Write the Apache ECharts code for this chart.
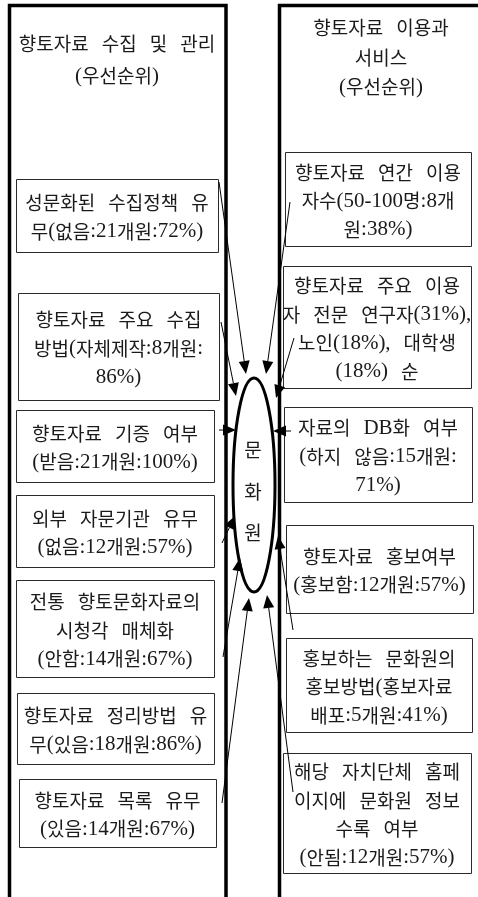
<!DOCTYPE html>
<html><head><meta charset="utf-8">
<script src="https://cdn.jsdelivr.net/npm/echarts@6/dist/echarts.min.js"></script>
<style>html,body{margin:0;padding:0;background:#fff}#c{width:478px;height:897px}</style>
</head><body><div id="c"></div>
<script>
// ---- content ----
const leftTitle = ['향토자료 수집 및 관리', '(우선순위)'];
const rightTitle = ['향토자료 이용과', '서비스', '(우선순위)'];
const centerLabel = ['문', '화', '원'];

const leftItems = [
  '성문화된 수집정책 유\n무(없음:{n}개원:{p}%)',
  '향토자료 주요 수집\n방법(자체제작:{n}개원:\n{p}%)',
  '향토자료 기증 여부\n(받음:{n}개원:{p}%)',
  '외부 자문기관 유무\n(없음:{n}개원:{p}%)',
  '전통 향토문화자료의\n시청각 매체화\n(안함:{n}개원:{p}%)',
  '향토자료 정리방법 유\n무(있음:{n}개원:{p}%)',
  '향토자료 목록 유무\n(있음:{n}개원:{p}%)'
];
const leftCounts = [21, 8, 21, 12, 14, 18, 14];
const leftPercents = [72, 86, 100, 57, 67, 86, 67];

const rightItems = [
  '향토자료 연간 이용\n자수(50-100명:{n}개\n원:{p}%)',
  '향토자료 주요 이용\n자 전문 연구자({a}%),\n노인({b}%), 대학생\n({c}%) 순',
  '자료의 DB화 여부\n(하지 않음:{n}개원:\n{p}%)',
  '향토자료 홍보여부\n(홍보함:{n}개원:{p}%)',
  '홍보하는 문화원의\n홍보방법(홍보자료\n배포:{n}개원:{p}%)',
  '해당 자치단체 홈페\n이지에 문화원 정보\n수록 여부\n(안됨:{n}개원:{p}%)'
];
const rightCounts = [8, null, 15, 12, 5, 12];
const rightPercents = [38, null, 71, 57, 41, 57];
const userShares = [31, 18, 18]; // 전문 연구자, 노인, 대학생

// ---- layout (positions only) ----
const W = 478, H = 897;
const leftBoxes = [[16,179,218,252],[18,293,219,400],[16,410,214,482],[16,495,214,567],[16,580,214,677],[17,693,214,764],[19,779,216,847]];
const rightBoxes = [[285,152,471,246],[283,266,471,388],[284,407,472,502],[286,525,473,613],[286,638,472,732],[283,753,471,873]];
const arrowPaths = [
  [[219,182],[246,374]],
  [[221,322],[236,396]],
  [[219,430],[236,430]],
  [[222,543],[235,516]],
  [[223,657],[240,558]],
  [[222,803],[249,598]],
  [[290,202],[266,374]],
  [[294,338],[276,398]],
  [[291,431],[273,431]],
  [[293,630],[278,536]],
  [[293,792],[267,595]]
];
const ellipseGeo = {cx:254, cy:485, rx:21, ry:107};
const centerLabelY = [450, 492, 533];

const TXT = '#1a1a1a';
const LH = 28.5;
const RICH = {
  h: {fontSize: 19, fontFamily: "'Noto Sans CJK KR', sans-serif", fill: TXT},
  l: {fontSize: 21, fontFamily: "'Liberation Serif', 'Noto Sans CJK KR', serif", fill: TXT},
  s: {fontSize: 26, fontFamily: "'Liberation Serif', serif", fill: TXT}
};

function fill(tpl, vals) { return tpl.replace(/\{(\w+)\}/g, (m, k) => vals[k]); }
const leftTexts = leftItems.map((t, i) => fill(t, {n: leftCounts[i], p: leftPercents[i]}));
const rightTexts = rightItems.map((t, i) => fill(t, {n: rightCounts[i], p: rightPercents[i], a: userShares[0], b: userShares[1], c: userShares[2]}));

function toRich(str) {
  let out = '', cur = null, buf = '';
  const flush = () => { if (buf) out += '{' + cur + '|' + buf + '}'; buf = ''; };
  for (const ch of str) {
    const t = ch === ' ' ? 's' : (/[\u1100-\u11FF\u3130-\u318F\uAC00-\uD7AF]/.test(ch) ? 'h' : 'l');
    if (t !== cur) { flush(); cur = t; }
    buf += ch === ' ' ? '\u2002' : ch;
  }
  flush();
  return out;
}

function textEl(str, x, y) {
  return {type:'text', style:{text: toRich(str), rich: RICH, x:x, y:y, fill: TXT, align:'center', verticalAlign:'middle'}};
}

function boxRender(texts, boxes) {
  return function (params, api) {
    const i = params.dataIndex, b = boxes[i];
    const p0 = api.coord([b[0], b[1]]), p1 = api.coord([b[2], b[3]]);
    const lines = texts[i].split('\n');
    const cx = (p0[0] + p1[0]) / 2, cy = (p0[1] + p1[1]) / 2 + 2;
    const children = [{type:'rect', shape:{x: Math.round(p0[0]) + 0.5, y: Math.round(p0[1]) + 0.5, width: Math.round(p1[0] - p0[0]), height: Math.round(p1[1] - p0[1])}, style:{fill:'none', stroke:'#2a2a2a', lineWidth:1}}];
    lines.forEach((ln, k) => children.push(textEl(ln, cx, cy + (k - (lines.length - 1) / 2) * LH)));
    return {type:'group', children};
  };
}

const chart = echarts.init(document.getElementById('c'), null, {renderer:'canvas'});
chart.setOption({
  animation: false,
  backgroundColor: '#fff',
  grid: {left:0, right:0, top:0, bottom:0},
  xAxis: {type:'value', min:0, max:W, show:false},
  yAxis: {type:'value', min:0, max:H, inverse:true, show:false},
  series: [
    { // panels and titles
      type:'custom', clip:false, data:[[0,0]],
      renderItem: function (params, api) {
        const a = api.coord([9.5, H]), b = api.coord([9.5, 5.5]), c = api.coord([226, 5.5]), d = api.coord([226, H]);
        const e = api.coord([279.5, H]), f = api.coord([279.5, 5.5]), g = api.coord([W + 5, 5.5]);
        const children = [
          {type:'polyline', shape:{points:[a,b,c,d]}, style:{stroke:'#000', lineWidth:3.5, fill:'none', lineJoin:'miter'}},
          {type:'polyline', shape:{points:[e,f,g]}, style:{stroke:'#000', lineWidth:3.5, fill:'none', lineJoin:'miter'}}
        ];
        const lt = api.coord([117, 44]);
        leftTitle.forEach((t, k) => children.push(textEl(t, lt[0], lt[1] + k * 32)));
        const rt = api.coord([381, 28]);
        rightTitle.forEach((t, k) => children.push(textEl(t, rt[0], rt[1] + k * 29.5)));
        return {type:'group', children};
      }
    },
    {type:'custom', clip:false, data: leftTexts.map((t, i) => [i, 0]), renderItem: boxRender(leftTexts, leftBoxes)},
    {type:'custom', clip:false, data: rightTexts.map((t, i) => [i, 0]), renderItem: boxRender(rightTexts, rightBoxes)},
    { // center ellipse
      type:'custom', clip:false, data:[[0,0]],
      renderItem: function (params, api) {
        const c = api.coord([ellipseGeo.cx, ellipseGeo.cy]);
        const children = [{type:'ellipse', shape:{cx:c[0], cy:c[1], rx:ellipseGeo.rx, ry:ellipseGeo.ry}, style:{fill:'none', stroke:'#000', lineWidth:3}}];
        centerLabel.forEach((t, k) => { const p = api.coord([ellipseGeo.cx - 1, centerLabelY[k]]); children.push(textEl(t, p[0], p[1])); });
        return {type:'group', children};
      }
    },
    { // arrows
      type:'custom', clip:false, data: arrowPaths.map((a, i) => [i, 0]),
      renderItem: function (params, api) {
        const ar = arrowPaths[params.dataIndex];
        const s = api.coord(ar[0]), t = api.coord(ar[1]);
        const dx = t[0] - s[0], dy = t[1] - s[1], len = Math.hypot(dx, dy);
        const ux = dx / len, uy = dy / len, L = 13, Wd = 5.5;
        const bx = t[0] - ux * L, by = t[1] - uy * L;
        return {type:'group', children:[
          {type:'line', shape:{x1:s[0], y1:s[1], x2:bx, y2:by}, style:{stroke:'#000', lineWidth:1}},
          {type:'polygon', shape:{points:[[t[0], t[1]], [bx - uy * Wd, by + ux * Wd], [bx + uy * Wd, by - ux * Wd]]}, style:{fill:'#000'}}
        ]};
      }
    }
  ]
});
</script></body></html>
